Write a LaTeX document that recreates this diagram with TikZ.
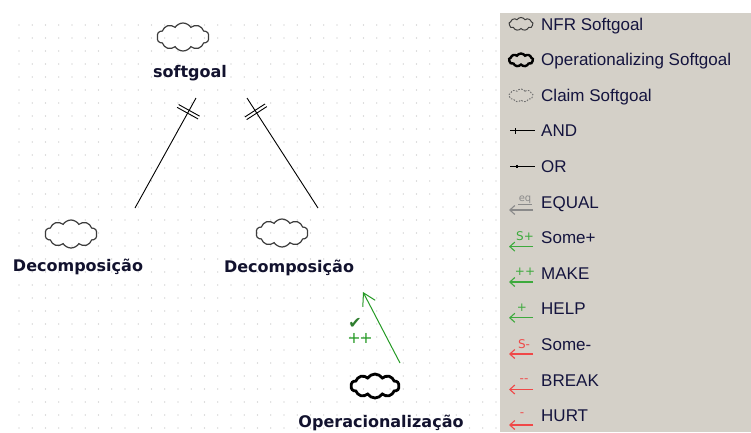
\documentclass[tikz,border=0pt]{standalone}
\usepackage{fontspec}
\setmainfont{Liberation Sans}
\newfontfamily\djv{DejaVu Sans}
\usetikzlibrary{shapes.symbols,arrows.meta,decorations.markings}

\definecolor{dotc}{HTML}{BDBDBD}
\definecolor{panelc}{HTML}{D4D0C8}
\definecolor{txtc}{HTML}{14143E}
\definecolor{lblc}{HTML}{12122E}
\definecolor{cgreen}{HTML}{259A25}
\definecolor{lgreen}{HTML}{3DAA3D}
\definecolor{lred}{HTML}{F04848}
\definecolor{chkc}{HTML}{2E7D2E}
\definecolor{eqc}{HTML}{8A8A8A}
\definecolor{cloudc}{HTML}{3C3C3C}

\tikzset{
  sgcloud/.style={cloud, cloud puffs=10, cloud puff arc=115, aspect=1.9,
    inner sep=0pt, draw=cloudc, line width=1.2pt,
    minimum width=52pt, minimum height=28pt},
  opcloud/.style={sgcloud, draw=black, line width=2.8pt,
    minimum width=48pt, minimum height=24pt},
  tinycloud/.style={cloud, cloud puffs=9, cloud puff arc=115, aspect=1.9,
    inner sep=0pt, draw=cloudc, line width=1pt,
    minimum width=24pt, minimum height=13pt},
  dlabel/.style={anchor=base, font=\djv\bfseries\fontsize{16}{18}\selectfont,
    text=lblc, inner sep=1pt},
  legtext/.style={anchor=base west, font=\fontsize{17}{19}\selectfont,
    text=txtc, inner sep=0pt},
  andlink/.style={line width=0.9pt, postaction={decorate},
    decoration={markings, mark=at position 0.875 with {
      \draw[line width=0.9pt] (-1.6pt,-12pt) -- (-1.6pt,12pt)
                              (1.6pt,-12pt) -- (1.6pt,12pt);}}},
  contrib/.style={draw=cgreen, line width=1pt,
    -{Straight Barb[length=12pt,width=14pt]}},
  legarrow/.style={line width=1.1pt, -{Straight Barb[length=5pt,width=9pt]}},
  leglbl/.style={font=\djv\fontsize{12}{13}\selectfont, inner sep=0pt},
}

\begin{document}
\begin{tikzpicture}[x=1pt,y=-1pt]
\useasboundingbox (0,0) rectangle (751,432);
\fill[white] (0,0) rectangle (751,432);

% dotted drawing grid
\foreach \i in {0,...,36}
  \foreach \j in {0,...,31}
    \fill[dotc] (19+13.25*\i, 25+13*\j) circle (0.65pt);

% palette panel
\fill[panelc] (500,13) rectangle (751,432);

% ---- goal graph ----
\node[sgcloud] (sg) at (183,37) {};
\node[dlabel] (sgl) at (190,77.3) {softgoal};

\node[sgcloud] (d1) at (71,234) {};
\node[dlabel] (d1l) at (78,271.7) {Decomposição};

\node[sgcloud] (d2) at (282,233) {};
\node[dlabel] (d2l) at (289,272.3) {Decomposição};

\node[opcloud] (op) at (375,386) {};
\node[dlabel] (opl) at (381,427.7) {Operacionalização};

% AND decomposition links
\coordinate (e1a) at (135,208);
\coordinate (e1b) at (196,98);
\coordinate (e2a) at (318,208);
\coordinate (e2b) at (247,98);
\draw[andlink] (e1a) -- (e1b);
\draw[andlink] (e2a) -- (e2b);

% MAKE contribution
\coordinate (ga) at (400,363);
\coordinate (gb) at (363,292);
\draw[contrib] (ga) -- (gb);
\node[font=\djv\fontsize{16}{17}\selectfont, text=chkc, inner sep=0pt] (chk) at (355,323) {✔};
\node[font=\djv\fontsize{16}{17}\selectfont, text=cgreen, inner sep=0pt] (pp) at (360,338) {+\kern-1.5pt+};

% ---- palette ----
% NFR softgoal
\node[tinycloud] (ic1) at (521,24) {};
\node[legtext] (t1) at (541,30) {NFR Softgoal};
% operationalizing softgoal
\node[tinycloud, draw=black, line width=2.4pt] (ic2) at (521,60) {};
\node[legtext] (t2) at (541,65.6) {Operationalizing Softgoal};
% claim softgoal
\node[tinycloud, draw=eqc!80!black, line width=0.9pt, dash pattern=on 1.6pt off 1.4pt] (ic3) at (521,95.5) {};
\node[legtext] (t3) at (541,101.2) {Claim Softgoal};
% AND
\draw[line width=1pt] (510,130.8) -- (535,130.8);
\draw[line width=1pt] (515,128) -- (515,133.6);
\node[legtext] (t4) at (541,136.8) {AND};
% OR
\draw[line width=1pt] (510,166.4) -- (535,166.4);
\draw[line width=2.2pt] (517,164.8) -- (517,168);
\node[legtext] (t5) at (541,172.4) {OR};
% EQUAL
\draw[legarrow, eqc] (533,210) -- (509,210);
\node[leglbl, text=eqc, font=\djv\fontsize{10}{11}\selectfont] (l6) at (525,199.5) {eq};
\draw[eqc, line width=0.8pt] (518,204.5) -- (532,204.5);
\node[legtext] (t6) at (541,208) {EQUAL};
% Some+
\draw[legarrow, lgreen] (533,246.6) -- (509,246.6);
\node[leglbl, text=lgreen] (l7) at (525,236.5) {S+};
\node[legtext] (t7) at (541,243.6) {Some+};
% MAKE
\draw[legarrow, lgreen] (533,282) -- (509,282);
\node[leglbl, text=lgreen] (l8) at (525,272) {++};
\node[legtext] (t8) at (541,279.2) {MAKE};
% HELP
\draw[legarrow, lgreen] (533,317.8) -- (509,317.8);
\node[leglbl, text=lgreen] (l9) at (522,308) {+};
\node[legtext] (t9) at (541,314.8) {HELP};
% Some-
\draw[legarrow, lred] (533,354) -- (509,354);
\node[leglbl, text=lred] (l10) at (524,344) {S-};
\node[legtext] (t10) at (541,350.4) {Some-};
% BREAK
\draw[legarrow, lred] (533,389.5) -- (509,389.5);
\node[leglbl, text=lred] (l11) at (524,380.5) {--};
\node[legtext] (t11) at (541,386) {BREAK};
% HURT
\draw[legarrow, lred] (533,425) -- (509,425);
\node[leglbl, text=lred] (l12) at (522,415) {-};
\node[legtext] (t12) at (541,421.6) {HURT};
\end{tikzpicture}
\end{document}
